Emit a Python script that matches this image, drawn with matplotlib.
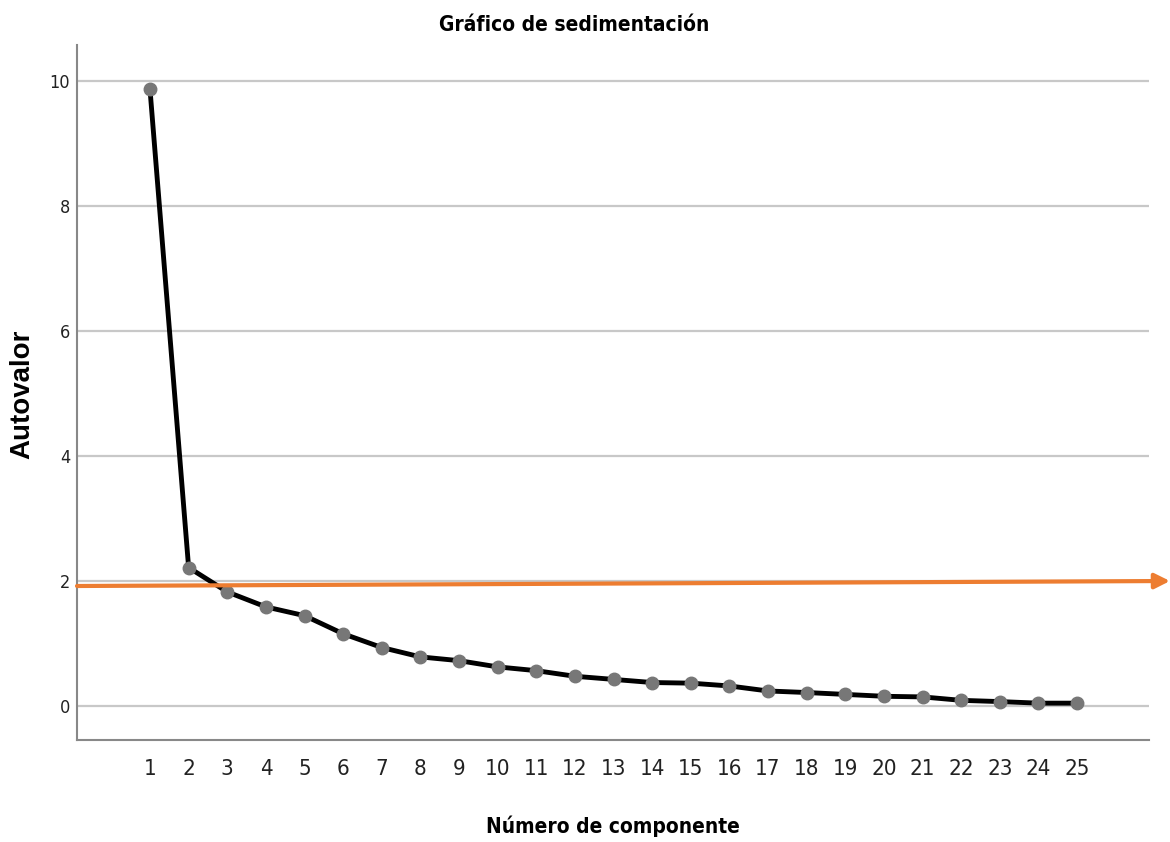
import matplotlib
matplotlib.use("Agg")
import matplotlib.pyplot as plt
from matplotlib import font_manager

components = list(range(1, 26))
eigenvalues = [9.86, 2.21, 1.82, 1.58, 1.44, 1.15, 0.93, 0.78, 0.72, 0.62,
               0.56, 0.47, 0.42, 0.37, 0.36, 0.315, 0.235, 0.21, 0.18, 0.15,
               0.14, 0.085, 0.065, 0.04, 0.04]
y_ticks = [0, 2, 4, 6, 8, 10]
title = "Gráfico de sedimentación"
xlabel = "Número de componente"
ylabel = "Autovalor"

# look for a narrow / condensed sans font file
reg_file, bold_file = None, None
for f in font_manager.fontManager.ttflist:
    base = f.fname.split("/")[-1].replace("-", "").replace("_", "").lower()
    if ("narrow" in base or "condensed" in base) and "sans" in base and "mono" not in base \
            and "oblique" not in base and "italic" not in base:
        if "bold" in base:
            if bold_file is None or "liberation" in base:
                bold_file = f.fname
        else:
            if reg_file is None or "liberation" in base:
                reg_file = f.fname

if reg_file:
    fp_reg = font_manager.FontProperties(fname=reg_file)
    found = True
else:
    fp_reg = font_manager.FontProperties(family="Liberation Sans")
    found = False
fp_bold = font_manager.FontProperties(fname=bold_file) if bold_file else \
    font_manager.FontProperties(family="Liberation Sans", weight="bold")

fig = plt.figure(figsize=(11.7, 8.42), dpi=100)
ax = fig.add_axes([0.0658, 0.1211, 0.9162, 0.8255])

ax.set_xlim(-0.89, 26.86)
ax.set_ylim(-0.55, 10.57)

for t in y_ticks:
    ax.axhline(t, color="#c8c8c8", lw=1.6, zorder=1)

ax.plot(components, eigenvalues, color="black", lw=3.5, zorder=3,
        marker="o", markersize=9, markerfacecolor="#777777",
        markeredgecolor="#777777")

xt_size = 16 if found else 15
yt_size = 13
ax.set_xticks(components)
ax.set_xticklabels([str(c) for c in components], fontproperties=fp_reg,
                   fontsize=xt_size, color="#222222")
ax.set_yticks(y_ticks)
ax.set_yticklabels([str(t) for t in y_ticks], fontproperties=fp_reg,
                   fontsize=yt_size, color="#222222")
ax.tick_params(length=0)
ax.tick_params(axis="y", pad=5)
ax.tick_params(axis="x", pad=14)

for s in ["top", "right"]:
    ax.spines[s].set_visible(False)
for s in ["left", "bottom"]:
    ax.spines[s].set_color("#888888")
    ax.spines[s].set_linewidth(1.5)

tsize = 15 if bold_file else 16
fig.text(574 / 1170, 1 - 25 / 842, title, ha="center", va="center",
         fontproperties=fp_bold, fontsize=tsize)
fig.text(613 / 1170, 1 - 826 / 842, xlabel, ha="center", va="center",
         fontproperties=fp_bold, fontsize=tsize)
fig.text(22 / 1170, 1 - 394 / 842, ylabel, ha="center", va="center",
         rotation=90, fontname="Liberation Sans", fontweight="bold", fontsize=20)

# orange reference arrow
ax.annotate("", xy=(1.0, 1 - 581 / 842), xycoords="figure fraction",
            xytext=(77 / 1170, 1 - 586 / 842), textcoords="figure fraction",
            arrowprops=dict(arrowstyle="-|>,head_length=0.9,head_width=0.45",
                            color="#ed7d31", lw=3, shrinkA=0, shrinkB=0),
            annotation_clip=False, zorder=5)

fig.savefig("out.png", dpi=100)
